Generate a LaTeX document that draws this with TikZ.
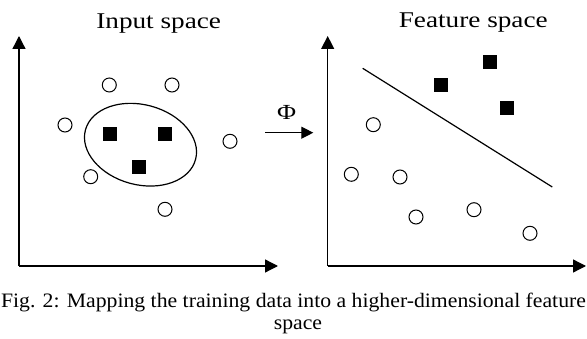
\documentclass[tikz,border=0pt]{standalone}
\usepackage{fontspec}
\usetikzlibrary{arrows.meta}
\newfontfamily\titlefont[FakeStretch=1.21]{Liberation Serif}
\newfontfamily\capfont[FakeStretch=1.06]{Liberation Serif}
\begin{document}
\begin{tikzpicture}[x=1pt,y=-1pt,
  axis/.style={line width=1.3pt,-{Triangle[length=13pt,width=13pt]}},
  mapping/.style={line width=1.2pt,-{Triangle[length=12pt,width=12pt]}},
  pt/.style={circle,draw,line width=1pt,minimum size=14pt,inner sep=0pt},
  sq/.style={rectangle,fill=black,minimum size=14pt,inner sep=0pt},
  title/.style={font=\titlefont\fontsize{22.5}{25}\selectfont,anchor=base,inner sep=0pt},
  captext/.style={font=\capfont\fontsize{20.5}{23}\selectfont,anchor=base,inner sep=0pt}]
\clip (0,0) rectangle (587,339);
\fill[white] (0,0) rectangle (587,339);

% ---- input space ----
\node[title] (tin) at (158.7,28.3) {Input space};
\coordinate (o1) at (19,266);
\coordinate (y1) at (19,36);
\coordinate (x1) at (278,266);
\draw[axis] (o1) -- (y1);
\draw[axis] (o1) -- (x1);

\draw[line width=1.2pt,rotate around={-15:(140.5,144.7)}]
  (140.5,144.7) ellipse [x radius=57, y radius=40];

\node[sq] (a1) at (109.7,134) {};
\node[sq] (a2) at (164.7,134) {};
\node[sq] (a3) at (139,166.7) {};

\node[pt] (b1) at (109.3,85) {};
\node[pt] (b2) at (172,85) {};
\node[pt] (b3) at (65,125) {};
\node[pt] (b4) at (230,141.3) {};
\node[pt] (b5) at (90.7,176.7) {};
\node[pt] (b6) at (165,209.3) {};

% ---- mapping ----
\node[font=\titlefont\fontsize{21.5}{24}\selectfont,anchor=base,inner sep=0pt] (phi) at (286.7,119.5) {Φ};
\coordinate (m0) at (265,132.7);
\coordinate (m1) at (313.3,132.7);
\draw[mapping] (m0) -- (m1);

% ---- feature space ----
\node[title] (tfeat) at (473.3,27.3) {Feature space};
\coordinate (o2) at (327.7,266);
\coordinate (y2) at (327.7,36);
\coordinate (x2) at (586,266);
\draw[axis] (o2) -- (y2);
\draw[axis] (o2) -- (x2);

\coordinate (h0) at (362.7,68.3);
\coordinate (h1) at (552.3,187);
\draw[line width=1.2pt] (h0) -- (h1);

\node[sq] (c1) at (441.3,85) {};
\node[sq] (c2) at (490,61.7) {};
\node[sq] (c3) at (506.7,108) {};

\node[pt] (d1) at (373.3,124.7) {};
\node[pt] (d2) at (351.3,174.3) {};
\node[pt] (d3) at (400,177) {};
\node[pt] (d4) at (416,217) {};
\node[pt] (d5) at (474,209.7) {};
\node[pt] (d6) at (530,233.3) {};

% ---- caption ----
\node[captext] (cap1) at (293.5,307.3) {Fig. 2: Mapping the training data into a higher-dimensional feature};
\node[captext] (cap2) at (298,329.3) {space};
\end{tikzpicture}
\end{document}
